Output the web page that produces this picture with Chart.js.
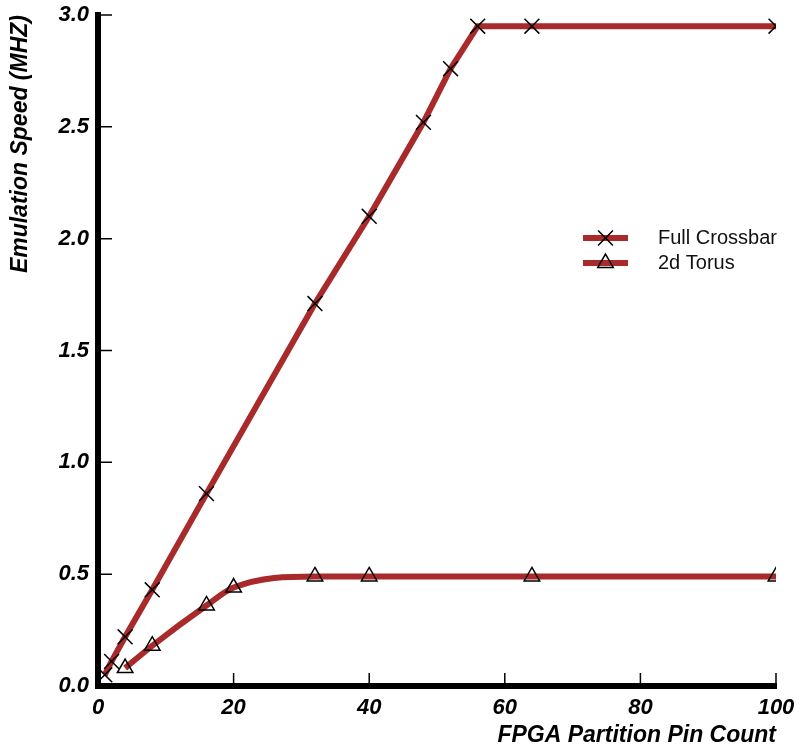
<!DOCTYPE html>
<html>
<head>
<meta charset="utf-8">
<script src="https://cdn.jsdelivr.net/npm/chart.js@4.4.1/dist/chart.umd.min.js"></script>
<style>
  html, body { margin: 0; padding: 0; background: #fff; }
  #wrap { width: 801px; height: 750px; }
</style>
</head>
<body>
<div id="wrap"><canvas id="speedChart" width="801" height="750"></canvas></div>
<script>
// pin count vs. emulation speed
const crossbarPins = [1, 2, 4, 8, 16, 32, 40, 48, 52, 56, 64, 100];
const crossbarSpeed = [0.05, 0.11, 0.22, 0.43, 0.86, 1.71, 2.10, 2.52, 2.76, 2.95, 2.95, 2.95];
const torusPins = [4, 8, 16, 20, 32, 40, 64, 100];
const torusSpeed = [0.08, 0.18, 0.36, 0.44, 0.49, 0.49, 0.49, 0.49];

const xTicks = [0, 20, 40, 60, 80, 100];
const yTicks = [0, 0.5, 1.0, 1.5, 2.0, 2.5, 3.0];

const lineColor = '#a82a2a';
const labelFont = { family: 'Liberation Sans, Arial, sans-serif', size: 22, weight: 'bold', style: 'italic' };
const titleFont = { family: 'Liberation Sans, Arial, sans-serif', size: 23, weight: 'bold', style: 'italic' };

const toPoints = (xs, ys) => xs.map((x, i) => ({ x: x, y: ys[i] }));

// short tick marks pointing into the plot
const innerTicks = {
  id: 'innerTicks',
  afterDraw(chart) {
    const { ctx, chartArea, scales } = chart;
    ctx.save();
    ctx.strokeStyle = '#000';
    ctx.lineWidth = 1.5;
    ctx.beginPath();
    xTicks.forEach(v => {
      const px = scales.x.getPixelForValue(v);
      ctx.moveTo(px, chartArea.bottom);
      ctx.lineTo(px, chartArea.bottom - 13);
    });
    yTicks.forEach(v => {
      const py = scales.y.getPixelForValue(v);
      ctx.moveTo(chartArea.left, py);
      ctx.lineTo(chartArea.left + 14, py);
    });
    ctx.stroke();
    ctx.restore();
  }
};

// legend box sitting inside the plot
const insideLegend = {
  id: 'insideLegend',
  afterDraw(chart) {
    const { ctx, chartArea } = chart;
    const x0 = chartArea.left + 485;
    const x1 = x0 + 45;
    const textX = chartArea.left + 560;
    ctx.save();
    chart.data.datasets.forEach((ds, i) => {
      const y = 238 + i * 25;
      ctx.strokeStyle = ds.borderColor;
      ctx.lineWidth = 6;
      ctx.beginPath();
      ctx.moveTo(x0, y);
      ctx.lineTo(x1, y);
      ctx.stroke();
      ctx.strokeStyle = '#000';
      ctx.fillStyle = 'rgba(0,0,0,0)';
      ctx.lineWidth = ds.pointBorderWidth;
      Chart.helpers.drawPoint(ctx, {
        pointStyle: ds.pointStyle,
        radius: ds.pointRadius,
        rotation: 0,
        borderWidth: ds.pointBorderWidth
      }, (x0 + x1) / 2, y);
      ctx.fillStyle = '#111';
      ctx.font = '20px "Liberation Sans", Arial, sans-serif';
      ctx.textAlign = 'left';
      ctx.textBaseline = 'alphabetic';
      ctx.fillText(ds.label, textX, y + 6);
    });
    ctx.restore();
  }
};

new Chart(document.getElementById('speedChart'), {
  type: 'line',
  data: {
    datasets: [{
      label: 'Full Crossbar',
      data: toPoints(crossbarPins, crossbarSpeed),
      borderColor: lineColor,
      borderWidth: 6,
      tension: 0,
      pointStyle: 'crossRot',
      pointRadius: 10.5,
      pointBorderWidth: 1.5,
      pointBorderColor: '#000',
      pointBackgroundColor: 'rgba(0,0,0,0)',
      clip: { left: 3, top: 3, right: 0, bottom: 3 }
    }, {
      label: '2d Torus',
      data: toPoints(torusPins, torusSpeed),
      borderColor: lineColor,
      borderWidth: 6,
      cubicInterpolationMode: 'monotone',
      pointStyle: 'triangle',
      pointRadius: 9,
      pointBorderWidth: 1.5,
      pointBorderColor: '#000',
      pointBackgroundColor: 'rgba(0,0,0,0)',
      clip: { left: 3, top: 3, right: 0, bottom: 3 }
    }]
  },
  options: {
    responsive: false,
    animation: false,
    layout: { padding: { top: 15, right: 25, bottom: 1, left: 7 } },
    plugins: {
      legend: { display: false },
      tooltip: { enabled: false }
    },
    scales: {
      x: {
        type: 'linear',
        min: 0,
        max: 100,
        afterBuildTicks: s => { s.ticks = xTicks.map(v => ({ value: v })); },
        afterFit: s => {
          s.height = 750 - 1 - 686;
          s.paddingLeft = 0;
          s.paddingRight = 0;
        },
        grid: { display: true, drawOnChartArea: false, drawTicks: false },
        border: { display: true, color: '#000', width: 6 },
        ticks: { color: '#000', font: labelFont, padding: 9, maxRotation: 0 },
        title: {
          display: true,
          text: 'FPGA Partition Pin Count',
          align: 'end',
          color: '#000',
          font: titleFont,
          padding: 0
        }
      },
      y: {
        type: 'linear',
        min: 0,
        max: 3,
        afterBuildTicks: s => { s.ticks = yTicks.map(v => ({ value: v })); },
        afterFit: s => {
          s.width = 98 - 7;
          s.paddingTop = 0;
          s.paddingBottom = 0;
        },
        grid: { display: true, drawOnChartArea: false, drawTicks: false },
        border: { display: true, color: '#000', width: 6 },
        ticks: {
          color: '#000',
          font: labelFont,
          padding: 9,
          callback: v => Number(v).toFixed(1)
        },
        title: {
          display: true,
          text: 'Emulation Speed (MHZ)',
          align: 'end',
          color: '#000',
          font: titleFont,
          padding: 0
        }
      }
    }
  },
  plugins: [innerTicks, insideLegend]
});
</script>
</body>
</html>
